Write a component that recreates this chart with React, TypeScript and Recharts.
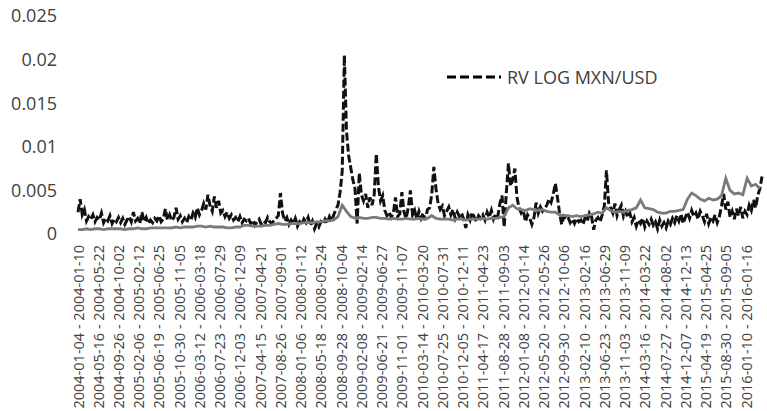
import React from "react"
import { LineChart, Line, XAxis, YAxis, Legend } from "recharts"

// weekly labels shown on the x axis (one every 19 weeks)
const tickLabels = [
  "2004-01-04 - 2004-01-10", "2004-05-16 - 2004-05-22", "2004-09-26 - 2004-10-02",
  "2005-02-06 - 2005-02-12", "2005-06-19 - 2005-06-25", "2005-10-30 - 2005-11-05",
  "2006-03-12 - 2006-03-18", "2006-07-23 - 2006-07-29", "2006-12-03 - 2006-12-09",
  "2007-04-15 - 2007-04-21", "2007-08-26 - 2007-09-01", "2008-01-06 - 2008-01-12",
  "2008-05-18 - 2008-05-24", "2008-09-28 - 2008-10-04", "2009-02-08 - 2009-02-14",
  "2009-06-21 - 2009-06-27", "2009-11-01 - 2009-11-07", "2010-03-14 - 2010-03-20",
  "2010-07-25 - 2010-07-31", "2010-12-05 - 2010-12-11", "2011-04-17 - 2011-04-23",
  "2011-08-28 - 2011-09-03", "2012-01-08 - 2012-01-14", "2012-05-20 - 2012-05-26",
  "2012-09-30 - 2012-10-06", "2013-02-10 - 2013-02-16", "2013-06-23 - 2013-06-29",
  "2013-11-03 - 2013-11-09", "2014-03-16 - 2014-03-22", "2014-07-27 - 2014-08-02",
  "2014-12-07 - 2014-12-13", "2015-04-19 - 2015-04-25", "2015-08-30 - 2015-09-05",
  "2016-01-10 - 2016-01-16",
]
const TICK_STEP_WEEKS = 19

const yTicks = [0, 0.005, 0.01, 0.015, 0.02, 0.025]

// RV LOG MXN/USD, read every 2 weeks, in units of 1e-4
const rvValues = [
  25, 40, 22, 28, 15, 20, 17, 22, 14, 19,
  16, 24, 13, 18, 15, 21, 12, 17, 14, 19,
  13, 18, 11, 16, 20, 14, 25, 15, 18, 12,
  25, 14, 19, 12, 16, 13, 18, 15, 21, 14,
  17, 29, 16, 22, 15, 19, 30, 17, 21, 14,
  18, 13, 20, 16, 24, 19, 30, 22, 27, 35,
  28, 45, 32, 26, 43, 30, 38, 24, 27, 20,
  25, 18, 22, 16, 19, 14, 20, 13, 17, 15,
  18, 12, 16, 10, 14, 17, 11, 15, 13, 19,
  14, 12, 16, 18, 21, 47, 24, 15, 19, 11,
  16, 12, 18, 9, 14, 11, 17, 13, 19, 10,
  15, 6, 12, 8, 14, 11, 17, 13, 20, 15,
  22, 28, 33, 48, 72, 205, 118, 90, 76, 62,
  52, 12, 70, 45, 38, 46, 30, 42, 33, 45,
  92, 54, 38, 44, 27, 21, 25, 19, 24, 42,
  20, 23, 48, 25, 18, 30, 50, 22, 27, 17,
  26, 18, 24, 16, 28, 30, 45, 77, 52, 35,
  28, 32, 21, 26, 31, 22, 28, 18, 25, 20,
  24, 17, 7, 22, 16, 25, 19, 14, 21, 18,
  22, 16, 25, 19, 27, 17, 23, 20, 35, 44,
  8, 47, 81, 55, 62, 75, 42, 30, 24, 27,
  14, 22, 18, 11, 19, 36, 24, 31, 26, 29,
  33, 40, 36, 45, 58, 42, 24, 11, 20, 17,
  19, 13, 17, 12, 18, 14, 16, 11, 19, 15,
  24, 20, 5, 16, 19, 14, 22, 32, 73, 36,
  30, 24, 35, 21, 28, 33, 20, 26, 19, 24,
  14, 19, 9, 16, 12, 18, 8, 15, 11, 17,
  10, 14, 6, 16, 9, 13, 7, 15, 11, 18,
  13, 21, 15, 23, 12, 19, 25, 18, 27, 20,
  24, 17, 26, 21, 14, 23, 12, 19, 15, 22,
  13, 20, 32, 46, 28, 37, 19, 26, 17, 29,
  21, 31, 18, 26, 22, 33, 27, 39, 30, 44, 52, 66,
]

// grey smooth series, read every 4 weeks, in units of 1e-4
const fcValues = [
  5, 5, 6, 5, 6, 6, 5, 6, 6, 6, 6, 5, 6, 6, 7, 6, 6, 7, 7, 7,
  7, 7, 7, 8, 7, 8, 8, 8, 9, 9, 8, 9, 8, 8, 8, 7, 7, 8, 8, 10,
  10, 9, 9, 9, 10, 10, 11, 12, 11, 11, 12, 12, 12, 13, 13, 13, 14, 14, 15, 15,
  16, 20, 33, 26, 20, 18, 19, 18, 18, 19,
  19, 18, 18, 17, 18, 17, 17, 18, 17, 17, 18, 17, 18, 21, 18, 17, 17, 17, 16, 17,
  17, 16, 17, 17, 17, 18, 17, 18, 18, 19,
  20, 30, 33, 29, 28, 27, 29, 28, 27, 28,
  26, 25, 25, 22, 21, 21, 20, 21, 20, 21,
  22, 23, 25, 24, 30, 27, 25, 26, 25, 27,
  28, 30, 39, 30, 29, 28, 25, 24, 24, 26,
  26, 27, 28, 40, 47, 44, 40, 38, 41, 39,
  40, 44, 64, 50, 46, 47, 45, 64, 55, 57, 52,
]

const UNIT = 1e-4
const rvData = rvValues.map((v, i) => ({ w: i * 2, rv: v * UNIT }))
const fcData = fcValues.map((v, i) => ({ w: i * 4, fc: v * UNIT }))
const lastWeek = (rvValues.length - 1) * 2
const xTicks = tickLabels.map((_, i) => i * TICK_STEP_WEEKS)

const FONT = "'Open Sans', sans-serif"
const TEXT = "#404040"

const DateTick = (props: any) => {
  const { x, y, payload } = props
  const label = tickLabels[Math.round(payload.value / TICK_STEP_WEEKS)]
  return (
    <text
      x={x}
      y={y}
      transform={`rotate(-90, ${x}, ${y})`}
      textAnchor="end"
      dominantBaseline="central"
      fontSize={14.5}
      fontFamily={FONT}
      fill={TEXT}
    >
      {label}
    </text>
  )
}

const renderLegend = () => (
  <div style={{ display: "flex", alignItems: "center", fontFamily: FONT }}>
    <svg width={54} height={6}>
      <line x1={0} y1={3} x2={54} y2={3} stroke="#000" strokeWidth={2.8} strokeDasharray="9 4" />
    </svg>
    <span style={{ marginLeft: 6, fontSize: 18, color: TEXT }}>RV LOG MXN/USD</span>
  </div>
)

export default function App() {
  return (
    <div style={{ position: "absolute", left: 0, top: 0, background: "#fff" }}>
      <LineChart width={767} height={411} margin={{ top: 16, right: 5, left: 0, bottom: 0 }}>
        <XAxis
          type="number"
          dataKey="w"
          domain={[0, lastWeek]}
          ticks={xTicks}
          interval={0}
          axisLine={false}
          tickLine={false}
          tickSize={0}
          tickMargin={11}
          height={177}
          tick={<DateTick />}
        />
        <YAxis
          domain={[0, 0.025]}
          ticks={yTicks}
          interval={0}
          width={78}
          axisLine={false}
          tickLine={false}
          tickSize={0}
          tickMargin={21}
          tick={{ fontSize: 18, fill: TEXT, fontFamily: FONT }}
          tickFormatter={(v: number) => String(v)}
        />
        <Legend
          layout="horizontal"
          verticalAlign="middle"
          align="center"
          content={renderLegend}
          wrapperStyle={{ position: "absolute", left: 447, top: 65, width: "auto" }}
        />
        <Line
          data={rvData}
          dataKey="rv"
          type="linear"
          stroke="#111"
          strokeWidth={3}
          strokeDasharray="8 3"
          dot={false}
          isAnimationActive={false}
        />
        <Line
          data={fcData}
          dataKey="fc"
          type="linear"
          stroke="#7a7a7a"
          strokeWidth={2.8}
          dot={false}
          legendType="none"
          isAnimationActive={false}
        />
      </LineChart>
    </div>
  )
}
